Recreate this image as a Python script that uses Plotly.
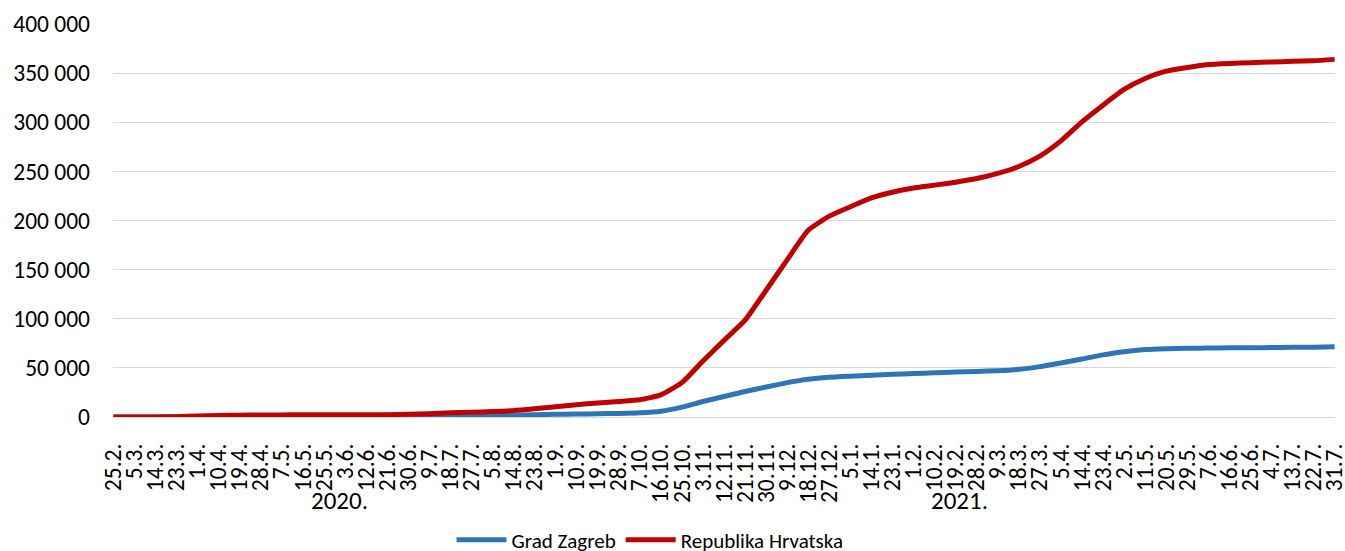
import pandas as pd
import plotly.graph_objects as go

# ---- data ----
tick_labels = ["25.2.", "5.3.", "14.3.", "23.3.", "1.4.", "10.4.", "19.4.", "28.4.", "7.5.", "16.5.",
               "25.5.", "3.6.", "12.6.", "21.6.", "30.6.", "9.7.", "18.7.", "27.7.", "5.8.", "14.8.",
               "23.8.", "1.9.", "10.9.", "19.9.", "28.9.", "7.10.", "16.10.", "25.10.", "3.11.", "12.11.",
               "21.11.", "30.11.", "9.12.", "18.12.", "27.12.", "5.1.", "14.1.", "23.1.", "1.2.", "10.2.",
               "19.2.", "28.2.", "9.3.", "18.3.", "27.3.", "5.4.", "14.4.", "23.4.", "2.5.", "11.5.",
               "20.5.", "29.5.", "7.6.", "16.6.", "25.6.", "4.7.", "13.7.", "22.7.", "31.7."]
dates = pd.date_range("2020-02-25", periods=len(tick_labels), freq="9D")

grad_zagreb = [0, 5, 20, 120, 350, 520, 620, 680, 700, 710,
               715, 718, 720, 760, 900, 1100, 1350, 1500, 1650, 1900,
               2300, 2700, 3000, 3300, 3600, 4200, 5800, 10000, 15800, 20800,
               26000, 30500, 35000, 38500, 40500, 41600, 42600, 43400, 44200, 45000,
               45700, 46400, 47100, 48500, 51300, 55000, 59000, 63200, 66500, 68600,
               69500, 69900, 70200, 70400, 70500, 70700, 70900, 71100, 71400]

republika_hrvatska = [1, 10, 50, 300, 1000, 1500, 1900, 2050, 2150, 2220,
                      2240, 2250, 2260, 2400, 2800, 3400, 4300, 4900, 5500, 6500,
                      8300, 10500, 12500, 14300, 15800, 17500, 22500, 35000, 57000, 78000,
                      98500, 129000, 160000, 190000, 204500, 214000, 223000, 228800, 233000, 236000,
                      239000, 242700, 248000, 255000, 265500, 281000, 300400, 317400, 333400, 344600,
                      352000, 355800, 358800, 359900, 360600, 361300, 362000, 362600, 364000]

year_labels = ["2020.", "2021."]
series_names = ["Grad Zagreb", "Republika Hrvatska"]

FONT = "Calibri, Carlito, Liberation Sans, Arial, sans-serif"

PL, PR, PT, PB = 113, 1335, 24, 417   # plot area in pixels
W, H = 1345, 551

fig = go.Figure()
fig.add_trace(go.Scatter(x=dates, y=grad_zagreb, mode="lines", name=series_names[0],
                         line=dict(color="#2E75B6", width=5, shape="spline", smoothing=0.5)))
fig.add_trace(go.Scatter(x=dates, y=republika_hrvatska, mode="lines", name=series_names[1],
                         line=dict(color="#C00000", width=5, shape="spline", smoothing=0.5)))

fig.update_layout(
    width=W, height=H,
    margin=dict(l=PL, r=W - PR, t=PT, b=H - PB, autoexpand=False),
    paper_bgcolor="white", plot_bgcolor="white",
    separators=", ",
    font=dict(family=FONT, color="#000000", size=23.5),
    showlegend=True,
    legend=dict(orientation="h", x=(650 - PL) / (PR - PL), xanchor="center",
                y=(PB - 540) / (PB - PT), yanchor="middle",
                itemwidth=50, tracegroupgap=0,
                font=dict(size=21, family=FONT, color="#000000"),
                bgcolor="rgba(0,0,0,0)"),
)
pad = pd.Timedelta(hours=4)
fig.update_xaxes(
    type="date", automargin=False,
    range=[dates[0] - pad, dates[-1] + pad],
    tickmode="array", tickvals=dates, ticktext=tick_labels,
    tickangle=-90, tickfont=dict(size=23.5), ticklabeloverflow="allow",
    showgrid=False, zeroline=False,
    showline=True, linecolor="#D9D9D9", linewidth=1.3,
    ticks="", ticklabelstandoff=16,
)
fig.update_yaxes(
    automargin=False,
    range=[0, 400000], tickmode="linear", tick0=0, dtick=50000,
    tickformat=",d", tickfont=dict(size=23.5),
    showgrid=True, gridcolor="#D9D9D9", gridwidth=1.3,
    zeroline=False, showline=False, ticks="", ticklabelstandoff=22,
)

for label, cx in zip(year_labels, [339, 959]):
    fig.add_annotation(text=label, xref="paper", yref="paper", x=(cx - PL) / (PR - PL),
                       y=(PB - 500) / (PB - PT), showarrow=False,
                       font=dict(size=25, family=FONT, color="#000"),
                       xanchor="center", yanchor="middle")

fig.write_html("out.html", config={"displayModeBar": False},
               post_script="document.body.style.margin='0';document.body.style.overflow='hidden';")
